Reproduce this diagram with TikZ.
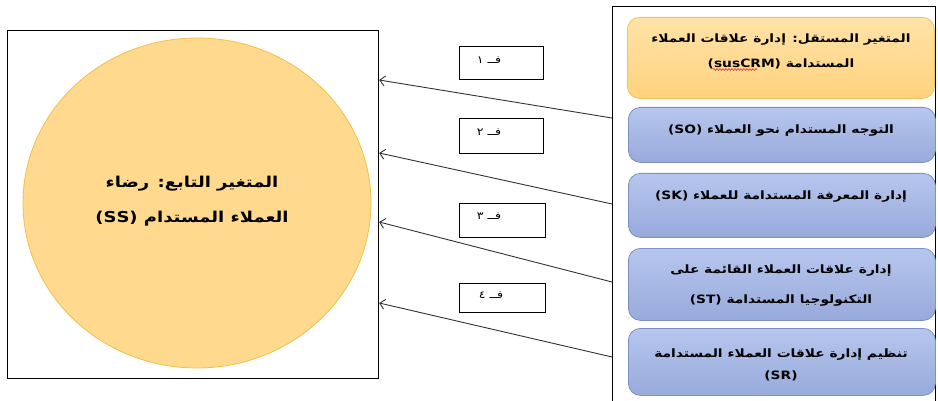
\documentclass[tikz,border=0pt]{standalone}
\usepackage{fontspec}
\usetikzlibrary{arrows.meta,shapes.geometric,decorations.pathmorphing}
\TeXXeTstate=1
\newfontfamily\arabicfont[Script=Arabic]{DejaVu Sans}
\newfontfamily\arabicwide[Script=Arabic,FakeStretch=1.2]{DejaVu Sans}
\definecolor{orfill}{HTML}{FFD98E}
\definecolor{ortop}{HTML}{FFE3A8}
\definecolor{orbot}{HTML}{FFD27E}
\definecolor{ordraw}{HTML}{F0C25E}
\definecolor{bltop}{HTML}{B6C6EE}
\definecolor{blbot}{HTML}{98AADB}
\definecolor{bldraw}{HTML}{7F90C4}
\definecolor{circdraw}{HTML}{F0C04C}
\definecolor{arrowcol}{HTML}{333333}
\definecolor{spellred}{HTML}{E03030}
\tikzset{
  frame/.style={draw=black, line width=1.2pt, anchor=north west, inner sep=0pt},
  orbox/.style={draw=ordraw, line width=0.8pt, rounded corners=12pt, top color=ortop, bottom color=orbot, anchor=north west, inner sep=0pt},
  blbox/.style={draw=bldraw, line width=0.8pt, rounded corners=12pt, top color=bltop, bottom color=blbot, anchor=north west, inner sep=0pt},
  btext/.style={align=center, inner sep=0pt, font=\arabicwide\bfseries\fontsize{11.5}{25}\selectfont},
  ctext/.style={align=center, inner sep=0pt, font=\arabicwide\bfseries\fontsize{15}{35}\selectfont},
  hbox/.style={draw=black, line width=1.1pt, anchor=north west, inner sep=0pt},
  htext/.style={inner sep=0pt, font=\arabicwide\fontsize{10.5}{12}\selectfont},
  link/.style={draw=arrowcol, line width=0.9pt, -{Straight Barb[length=5pt,width=10pt]}},
  spellwave/.style={draw=spellred, line width=0.6pt, decorate, decoration={snake, amplitude=0.9pt, segment length=3pt}},
}
\begin{document}
\begin{tikzpicture}[x=1pt,y=-1pt]
\useasboundingbox (0,0) rectangle (938,401);
% left frame with circle
\node[frame, minimum width=371pt, minimum height=348pt] (L) at (7,30) {};
\node[ellipse, draw=circdraw, line width=0.8pt, fill=orfill, minimum width=348pt, minimum height=330pt, inner sep=0pt] (C) at (197,203) {};
\node[ctext] (ct) at (192,201) {\beginR المتغير التابع: رضاء\endR\\\beginR العملاء المستدام \beginL(SS)\endL\endR};
% right frame
\node[frame, minimum width=323pt, minimum height=420pt] (R) at (612,6) {};
\node[orbox, minimum width=307pt, minimum height=81pt] (b0) at (627,17) {};
\node[btext] (t0) at (781,51) {\beginR المتغير المستقل: إدارة علاقات العملاء\endR\\\beginR المستدامة \beginL(susCRM)\endL\endR};
\coordinate (w1) at (713,69.5);
\coordinate (w2) at (757,69.5);
\draw[spellwave] (w1) -- (w2);
\node[blbox, minimum width=307pt, minimum height=55pt] (b1) at (628,107) {};
\node[btext] (t1) at (781,131) {\beginR التوجه المستدام نحو العملاء \beginL(SO)\endL\endR};
\node[blbox, minimum width=307pt, minimum height=64pt] (b2) at (628,173) {};
\node[btext] (t2) at (781,197) {\beginR إدارة المعرفة المستدامة للعملاء \beginL(SK)\endL\endR};
\node[blbox, minimum width=307pt, minimum height=72pt] (b3) at (628,248) {};
\node[btext, font=\arabicwide\bfseries\fontsize{11.5}{30}\selectfont] (t3) at (781,286) {\beginR إدارة علاقات العملاء القائمة على\endR\\\beginR التكنولوجيا المستدامة \beginL(ST)\endL\endR};
\node[blbox, minimum width=307pt, minimum height=67pt] (b4) at (628,328) {};
\node[btext, font=\arabicwide\bfseries\fontsize{11.5}{22}\selectfont] (t4) at (781,365) {\beginR تنظيم إدارة علاقات العملاء المستدامة\endR\\\beginL(SR)\endL};
% hypothesis labels
\node[hbox, minimum width=84pt, minimum height=33pt] (h1) at (459,46) {};
\node[htext] (ht1) at (489,60) {\beginR فــ ١\endR};
\node[hbox, minimum width=84pt, minimum height=35pt] (h2) at (459,118) {};
\node[htext] (ht2) at (489,132) {\beginR فــ ٢\endR};
\node[hbox, minimum width=86pt, minimum height=34pt] (h3) at (459,203) {};
\node[htext] (ht3) at (489,216) {\beginR فــ ٣\endR};
\node[hbox, minimum width=86pt, minimum height=29pt] (h4) at (459,283) {};
\node[htext] (ht4) at (491,295) {\beginR فــ ٤\endR};
% connectors
\coordinate (s1) at (R.west |- 0,118);
\coordinate (e1) at (L.east |- 0,80);
\coordinate (s2) at (R.west |- 0,204);
\coordinate (e2) at (L.east |- 0,153);
\coordinate (s3) at (R.west |- 0,282);
\coordinate (e3) at (L.east |- 0,222);
\coordinate (s4) at (R.west |- 0,357);
\coordinate (e4) at (L.east |- 0,303);
\draw[link] (s1) -- (e1);
\draw[link] (s2) -- (e2);
\draw[link] (s3) -- (e3);
\draw[link] (s4) -- (e4);
\end{tikzpicture}
\end{document}
